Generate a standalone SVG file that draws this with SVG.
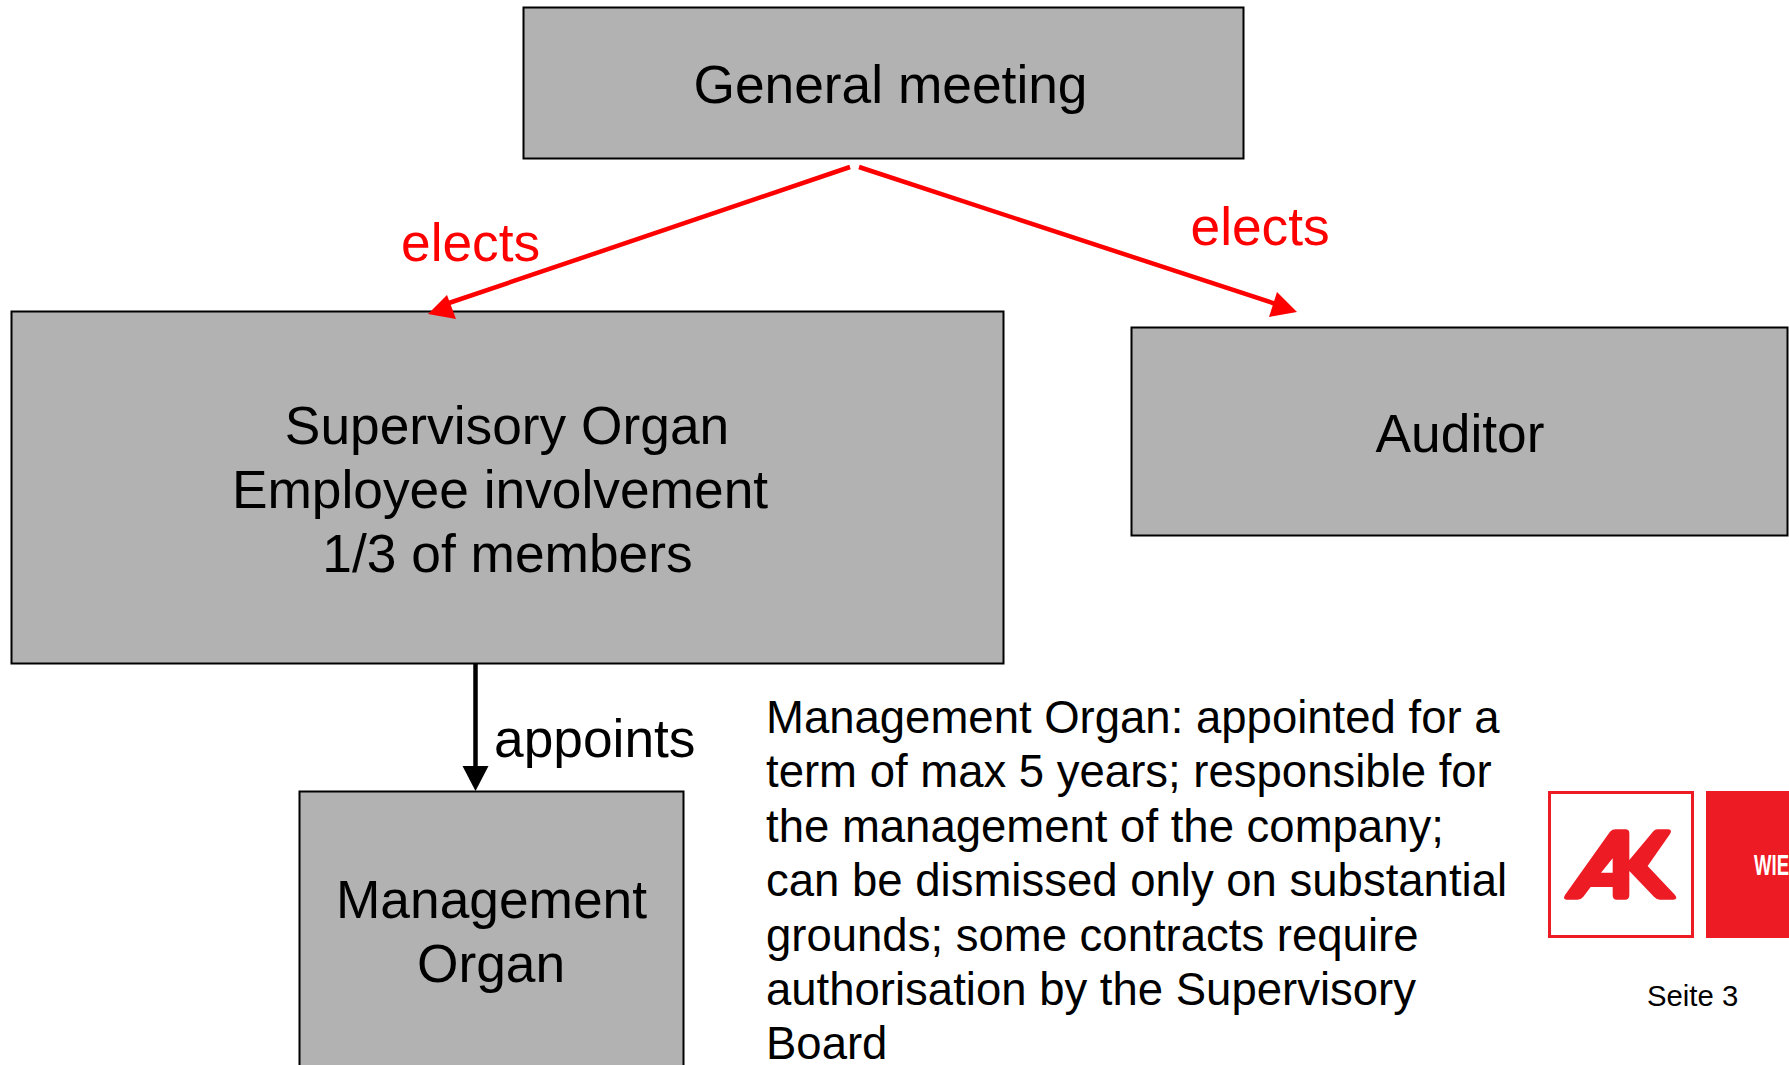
<svg xmlns="http://www.w3.org/2000/svg" width="1789" height="1065" viewBox="0 0 1789 1065">
<style>
.box{fill:#b2b2b2;stroke:#000;stroke-width:2}
text{font-family:"Liberation Sans",Arial,sans-serif;fill:#000}
.n{font-size:53.3px;text-anchor:middle}
.b{font-size:45.5px}
.r{font-size:53.3px;fill:#f00}
.red{stroke:#f00;stroke-width:4.500;fill:none}
</style>
<rect width="1789" height="1065" fill="#fff"/>
<g id="general-meeting"><rect class="box" x="523.500" y="7.500" width="720" height="151"/><text class="n" x="890.500" y="103">General meeting</text></g>
<g id="supervisory-organ"><rect class="box" x="11.500" y="311.500" width="992" height="352"/><text class="n" x="507" y="444">Supervisory Organ</text><text class="n" x="500" y="508">Employee involvement</text><text class="n" x="507.500" y="572">1/3 of members</text></g>
<g id="auditor"><rect class="box" x="1131.500" y="327.500" width="656" height="208"/><text class="n" x="1460" y="452">Auditor</text></g>
<g id="management-organ"><rect class="box" x="299.500" y="791.500" width="384" height="290"/><text class="n" x="491.500" y="918">Management</text><text class="n" x="491" y="982">Organ</text></g>
<g id="connectors">
<line class="red" x1="850" y1="167" x2="440" y2="306"/><polygon fill="#f00" points="428,314 447,295 456,319"/>
<line class="red" x1="859" y1="167" x2="1282" y2="306"/><polygon fill="#f00" points="1297,312 1277,292 1269,317"/>
<line x1="475.500" y1="663" x2="475.500" y2="770" stroke="#000" stroke-width="4.500"/><polygon fill="#000" points="475.500,791 462.500,766 488.500,766"/>
</g>
<g id="labels">
<text class="r" x="401" y="261">elects</text><text class="r" x="1190.500" y="245">elects</text>
<text x="494" y="757" font-size="53.300">appoints</text>
</g>
<g id="description">
<text class="b" x="766" y="733">Management Organ: appointed for a</text>
<text class="b" x="766" y="787">term of max 5 years; responsible for</text>
<text class="b" x="766" y="842">the management of the company;</text>
<text class="b" x="766" y="896">can be dismissed only on substantial</text>
<text class="b" x="766" y="950.500">grounds; some contracts require</text>
<text class="b" x="766" y="1005">authorisation by the Supervisory</text>
<text class="b" x="766" y="1059">Board</text>
</g>
<g id="logo">
<rect x="1549.500" y="792.500" width="143" height="144" fill="#fff" stroke="#ed1c24" stroke-width="3"/>
<rect x="1706" y="791" width="83" height="147" fill="#ed1c24"/>
<path transform="translate(1500,760) scale(.33333)" fill="#ed1c24" fill-rule="evenodd" d="M195 405L330 215Q337 208 347 208L376 208Q388 208 388 220L388 300L460 214Q465 208 472 208L505 208Q518 210 510 222L443 318L525 405Q535 418 520 419L480 419Q470 419 462 410L388 333L388 405Q388 419 375 419L350 419Q338 419 338 405L338 381L272 381L250 410Q243 419 232 419L200 419Q187 418 195 405ZM338 295L338 338L303 338Z"/>
<text x="1754" y="875" font-size="29" font-weight="bold" style="fill:#fff" textLength="35" lengthAdjust="spacingAndGlyphs">WIE</text>
</g>
<text id="page" x="1647" y="1006" font-size="29.300">Seite 3</text>
</svg>
